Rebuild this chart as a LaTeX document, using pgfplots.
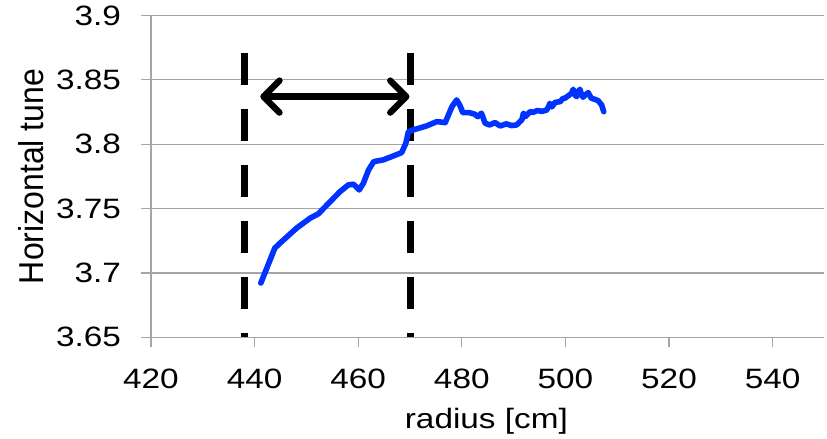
\documentclass[border=0pt]{standalone}
\usepackage{pgfplots}
\pgfplotsset{compat=1.18}
\usepackage{fontspec}
\setmainfont{Liberation Sans}
\usetikzlibrary{arrows.meta}
\definecolor{tuneblue}{RGB}{0,51,255}
\definecolor{gridgray}{RGB}{165,165,165}

% slightly widened lettering
\newcommand{\wide}[1]{\scalebox{1.19}[1]{#1}}

\begin{document}
\begin{tikzpicture}
\begin{axis}[
  scale only axis,
  width=336.7pt, height=160.9pt,
  xmin=420, xmax=550,
  ymin=3.65, ymax=3.9,
  xtick={420,440,...,540},
  ytick={3.65,3.7,3.75,3.8,3.85,3.9},
  axis x line*=bottom,
  axis y line*=left,
  axis line style={gridgray, line width=0.6pt, -},
  ymajorgrids,
  grid style={gridgray, line width=0.6pt},
  tick align=outside,
  major tick length=5pt,
  tick style={gridgray, line width=0.6pt},
  /pgf/number format/assume math mode=true,
  xticklabel={\wide{\pgfmathprintnumber[1000 sep={}]{\tick}}},
  yticklabel={\wide{\pgfmathprintnumber[fixed,precision=2]{\tick}}},
  tick label style={font=\fontsize{14}{17}\selectfont, black},
  xticklabel style={yshift=-7.5pt},
  yticklabel style={xshift=-6.5pt},
  every axis x label/.style={at={(axis description cs:0.498,-0.2819)}, anchor=base,
    font=\fontsize{14}{17}\selectfont},
  every axis y label/.style={at={(axis description cs:-0.178,0.5)}, rotate=90, anchor=center,
    font=\fontsize{16}{19}\selectfont},
  xlabel={\wide{radius [cm]}},
  ylabel={\scalebox{1}[1.08]{Horizontal tune}},
  clip=false,
]
\coordinate (O) at (axis cs:420,3.65);

% boundaries of the region
\addplot[black, line width=3.6pt, dash pattern=on 16pt off 12pt]
  coordinates {(438.1,3.871) (438.1,3.65)};
\addplot[black, line width=3.6pt, dash pattern=on 16pt off 12pt]
  coordinates {(470.1,3.871) (470.1,3.65)};

% double arrow spanning the region
\addplot[black, line width=3.2pt,
  arrows={Straight Barb[length=8pt,width=16pt,round]-Straight Barb[length=8pt,width=16pt,round]}]
  coordinates {(441.1,3.837) (469.9,3.837)};

% measured horizontal tune
\addplot[tuneblue, line width=2.8pt, line join=round, line cap=round] coordinates {
(441.2,3.6921) (443.9,3.7193) (444.9,3.7231) (448.1,3.7348) (450.7,3.7425)
(452.3,3.7459) (454.6,3.7554) (456.5,3.7632) (458.1,3.7684) (459.1,3.7689)
(460.2,3.7645) (461.0,3.7697) (462.0,3.7800) (463.0,3.7865) (464.8,3.7878)
(466.8,3.7909) (468.4,3.7935) (469.2,3.8008) (469.7,3.8098) (471.0,3.8116)
(473.2,3.8142) (475.2,3.8176) (476.8,3.8168) (478.1,3.8292) (479.0,3.8344)
(479.6,3.8305) (480.2,3.8245) (481.5,3.8245) (482.5,3.8233) (483.1,3.8214)
(483.8,3.8241) (484.5,3.8163) (485.4,3.8150) (486.4,3.8168) (487.4,3.8142)
(488.6,3.8158) (489.6,3.8145) (490.6,3.8150) (491.2,3.8175) (491.6,3.8189)
(491.9,3.8241) (492.3,3.8215) (493.2,3.8253) (493.8,3.8248) (494.6,3.8262)
(495.5,3.8255) (496.4,3.8266) (496.8,3.8295) (497.0,3.8318) (497.4,3.8290)
(498.0,3.8325) (499.0,3.8331) (499.5,3.8355) (499.9,3.8357) (500.5,3.8375)
(501.2,3.8396) (501.5,3.8427) (501.9,3.8380) (502.2,3.8370) (502.5,3.8410)
(502.8,3.8427) (503.1,3.8390) (503.4,3.8365) (503.9,3.8385) (504.4,3.8401)
(505.0,3.8357) (505.6,3.8350) (506.3,3.8339) (507.0,3.8305) (507.4,3.8253)
};
\end{axis}
\pgfresetboundingbox
\path ([shift={(-75.5pt,-50.85pt)}]O) rectangle ([shift={(338pt,168.65pt)}]O);
\end{tikzpicture}
\end{document}
